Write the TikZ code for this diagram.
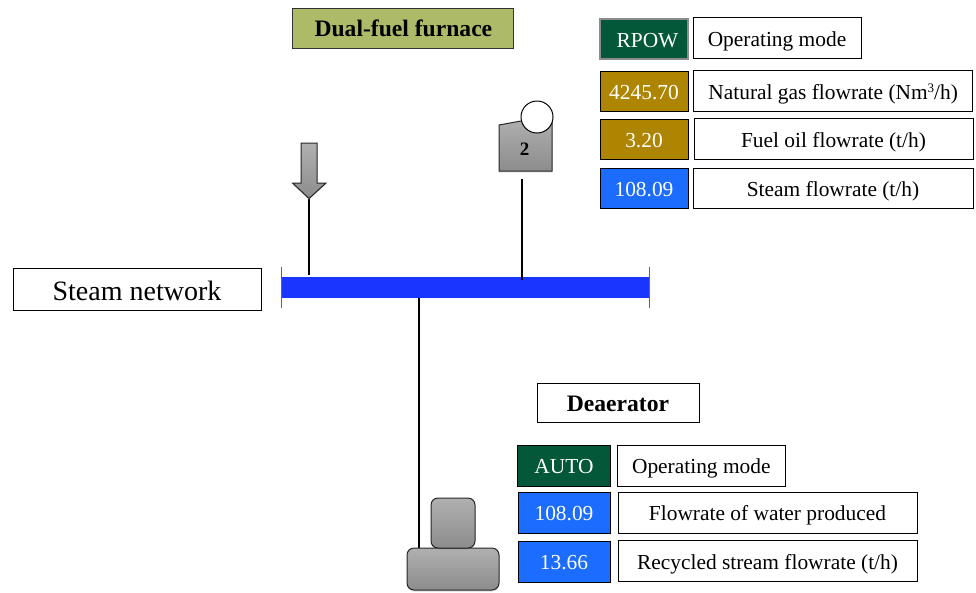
\documentclass[tikz,border=0pt]{standalone}
\usepackage{fontspec}
\setmainfont{Liberation Serif}
\usetikzlibrary{calc,shadows}
\definecolor{modegreen}{HTML}{03583A}
\definecolor{fuelgold}{HTML}{AE8500}
\definecolor{flowblue}{HTML}{1B6CFF}
\definecolor{busblue}{HTML}{1A35FF}
\definecolor{titlegreen}{HTML}{ADBA68}
\tikzset{
  x=1pt,y=-1pt,
  box/.style={draw=black,line width=1pt,inner sep=0pt,minimum width=#1,text height=16.5,text depth=0,font=\fontsize{21.4}{25}\selectfont},
  labelbox/.style={box=#1,fill=white,minimum height=41},
  valbox/.style={box=88,minimum height=41,text=white},
  equip/.style={draw=black!85,line width=1pt,top color=black!31,bottom color=black!45,drop shadow={opacity=.25,shadow xshift=0pt,shadow yshift=-1.5pt}},
  pipe/.style={draw=black,line width=1.6pt},
  tick/.style={draw=black!60,line width=.8pt},
}
\begin{document}
\begin{tikzpicture}
\useasboundingbox (0,0) rectangle (976,592);
% title
\node[draw=black!80,line width=1pt,fill=titlegreen,inner sep=0pt,minimum width=221,minimum height=40,text height=17,text depth=0,font=\bfseries\fontsize{23.6}{28}\selectfont] (title) at (403.4,28) {Dual-fuel furnace};
% top legend
\node[valbox,fill=modegreen,draw=black!45,line width=1.2pt,minimum height=40] (v1) at (644,39) {\hspace*{7pt}RPOW};
\node[labelbox=168] (l1) at (777,38) {Operating mode};
\node[valbox,fill=fuelgold,minimum height=40] (v2) at (644,91) {4245.70};
\node[labelbox=279.5] (l2) at (833.2,90.8) {Natural gas flowrate (Nm\raisebox{6.5pt}{\fontsize{13}{15}\selectfont 3}/h)};
\node[valbox,fill=fuelgold,minimum height=40] (v3) at (644,139) {3.20};
\node[labelbox=279,minimum height=40.5] (l3) at (833.5,138.8) {Fuel oil flowrate (t/h)};
\node[valbox,fill=flowblue,minimum height=40] (v4) at (644,188) {108.09};
\node[labelbox=280,minimum height=40] (l4) at (833,188) {Steam flowrate (t/h)};
% bus
\node[draw=none,fill=busblue,inner sep=0pt,minimum width=367,minimum height=21] (bus) at (465.5,287.5) {};
\draw[tick] (bus.west) ++(0,-20.5) coordinate (a1) -- ++(0,41) coordinate (a2);
\draw[tick] (bus.east) ++(0,-20.5) coordinate (b1) -- ++(0,41) coordinate (b2);
\node[draw=black,line width=1pt,fill=white,inner sep=0pt,minimum width=248,minimum height=42,text height=22,text depth=0,font=\fontsize{28}{32}\selectfont] (net) at (137,289) {Steam network};
% arrow
\coordinate (tip) at (309,198.5);
\coordinate (tipfoot) at (309,208);
\coordinate (arrowfoot) at (309,275);
\draw[pipe] (tip) -- (arrowfoot);
\draw[draw=black,line width=2.4pt] (tip) -- (tipfoot);
\path[equip] (301,143) -- (317,143) -- (317,183) -- (326,183) -- (tip) -- (292.5,183) -- (301,183) -- cycle;
% furnace symbol
\path[equip] (499,125) -- (521,121) -- (552,118) -- (552,171) -- (499,171) -- cycle;
\node[circle,draw=black,line width=1pt,fill=white,minimum size=32,inner sep=0pt] (burner) at (537,117) {};
\node[inner sep=0pt,font=\bfseries\fontsize{19}{21}\selectfont] (two) at (524.5,149) {2};
\coordinate (furnacefoot) at (522,179);
\coordinate (furnacebus) at (522,280);
\draw[pipe] (furnacefoot) -- (furnacebus);
% deaerator
\coordinate (busdrop) at (419,298);
\coordinate (tanktop) at (419,548.5);
\draw[pipe] (busdrop) -- (tanktop);
\node[equip,rounded corners=7pt,minimum width=92,minimum height=42,inner sep=0pt] (tank) at (453,569) {};
\node[equip,rounded corners=7pt,minimum width=44,minimum height=50,inner sep=0pt] (dome) at (453,523) {};
% bottom legend
\node[draw=black,line width=1pt,fill=white,inner sep=0pt,minimum width=162,minimum height=39,text height=17,text depth=0,font=\bfseries\fontsize{23.6}{28}\selectfont] (dea) at (618,402.5) {Deaerator};
\node[valbox,fill=modegreen,minimum width=92.5] (w1) at (564,465.5) {AUTO};
\node[labelbox=168] (m1) at (701.3,465.5) {Operating mode};
\node[valbox,fill=flowblue,minimum width=92] (w2) at (564,512.5) {108.09};
\node[labelbox=299] (m2) at (767.5,512.5) {Flowrate of water produced};
\node[valbox,fill=flowblue,minimum width=92] (w3) at (564,561.5) {13.66};
\node[labelbox=299] (m3) at (767.5,561) {Recycled stream flowrate (t/h)};
\end{tikzpicture}
\end{document}
